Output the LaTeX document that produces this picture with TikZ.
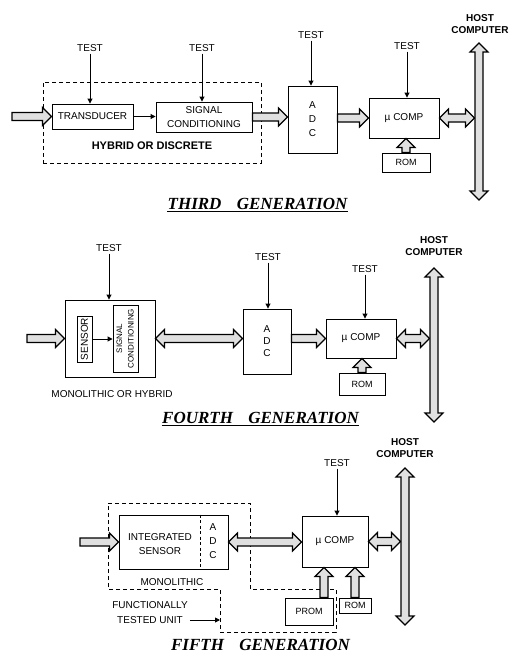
\documentclass[tikz,border=0pt]{standalone}
\usepackage{fontspec}
\setmainfont{Liberation Sans}
\newfontfamily\titlefont{Liberation Serif}
\usetikzlibrary{arrows.meta,calc}
\def\arrSW{4pt}
\def\arrHW{9pt}
\def\arrHL{9pt}
\begin{document}
\begin{tikzpicture}[x=1pt,y=-1pt,
  box/.style={draw, line width=0.9pt, inner sep=0pt, align=center, font=\fontsize{10}{14}\selectfont},
  lbl/.style={inner sep=0pt, align=center, font=\fontsize{10}{14}\selectfont},
  hostlbl/.style={inner sep=0pt, align=center, font=\bfseries\fontsize{10}{12.5}\selectfont},
  ttl/.style={inner sep=0pt, font=\titlefont\bfseries\itshape\fontsize{17}{20}\selectfont},
  tarrow/.style={draw, line width=0.9pt, shorten <=2pt, -{Triangle[length=5pt,width=5pt]}},
  hshape/.style={draw, line width=1.2pt, fill=black!12, line join=miter},
  dbox/.style={draw, line width=0.9pt, dash pattern=on 4pt off 3pt},
  harrow/.style={to path={
    ($(\tikztostart)!\arrSW!90:(\tikztotarget)$)
    -- ($(\tikztotarget)!\arrHL!(\tikztostart)!\arrSW!-90:(\tikztostart)$)
    -- ($(\tikztotarget)!\arrHL!(\tikztostart)!\arrHW!-90:(\tikztostart)$)
    -- (\tikztotarget)
    -- ($(\tikztotarget)!\arrHL!(\tikztostart)!\arrHW!90:(\tikztostart)$)
    -- ($(\tikztotarget)!\arrHL!(\tikztostart)!\arrSW!90:(\tikztostart)$)
    -- ($(\tikztostart)!\arrSW!-90:(\tikztotarget)$)
    -- cycle}},
  harrowboth/.style={to path={
    (\tikztostart)
    -- ($(\tikztostart)!\arrHL!(\tikztotarget)!\arrHW!90:(\tikztotarget)$)
    -- ($(\tikztostart)!\arrHL!(\tikztotarget)!\arrSW!90:(\tikztotarget)$)
    -- ($(\tikztotarget)!\arrHL!(\tikztostart)!\arrSW!-90:(\tikztostart)$)
    -- ($(\tikztotarget)!\arrHL!(\tikztostart)!\arrHW!-90:(\tikztostart)$)
    -- (\tikztotarget)
    -- ($(\tikztotarget)!\arrHL!(\tikztostart)!\arrHW!90:(\tikztostart)$)
    -- ($(\tikztotarget)!\arrHL!(\tikztostart)!\arrSW!90:(\tikztostart)$)
    -- ($(\tikztostart)!\arrHL!(\tikztotarget)!\arrSW!-90:(\tikztotarget)$)
    -- ($(\tikztostart)!\arrHL!(\tikztotarget)!\arrHW!-90:(\tikztotarget)$)
    -- cycle}},
]
\useasboundingbox (0,0) rectangle (510,654);

% ================= THIRD GENERATION =================
\node[dbox, inner sep=0pt, minimum width=218pt, minimum height=81pt] (hyb) at (152,122.5) {};
\node[lbl, font=\bfseries\fontsize{11}{13}\selectfont] (hybl) at (152,146) {HYBRID OR DISCRETE};
\node[box, minimum width=81pt, minimum height=25pt] (trans) at (92.5,116.5) {TRANSDUCER};
\node[box, minimum width=96pt, minimum height=30pt] (sc3) at (204,117) {SIGNAL\\CONDITIONING};
\node[box, minimum width=49pt, minimum height=67pt] (adc3) at (312.5,119.5) {A\\D\\C};
\node[box, minimum width=70pt, minimum height=40pt] (mc3) at (404,118) {µ COMP};
\node[box, font=\fontsize{9}{11}\selectfont, minimum width=48pt, minimum height=19pt] (rom3) at (406,162.5) {ROM};
\node[lbl] (t31) at (90,48) {TEST};
\node[lbl] (t32) at (202,48) {TEST};
\node[lbl] (t33) at (311,35) {TEST};
\node[lbl] (t34) at (407,46) {TEST};
\node[hostlbl] (h3) at (480,24) {HOST\\COMPUTER};
\coordinate (b3t) at (479,43);
\coordinate (b3b) at (479,200);
\coordinate (b3l) at (474.5,118);
\coordinate (in3) at (12,116.5);
\node[ttl] (ttl3) at (257.5,204) {THIRD\hspace{0.9em}GENERATION};
\draw[line width=0.9pt] ([yshift=-2pt]ttl3.south west) -- ([yshift=-2pt]ttl3.south east);

\draw[tarrow] (t31.south) -- (t31.south |- trans.north);
\draw[tarrow] (t32.south) -- (t32.south |- sc3.north);
\draw[tarrow] (t33.south) -- (t33.south |- adc3.north);
\draw[tarrow] (t34.south) -- (t34.south |- mc3.north);
\draw[tarrow, shorten <=0pt] (trans.east) -- (trans.east -| sc3.west);
\draw[hshape] (in3) to[harrow] (trans.west);
\draw[hshape] (sc3.east) to[harrow] (sc3.east -| adc3.west);
\draw[hshape] (adc3.east |- mc3.west) to[harrow] (mc3.west);
\draw[hshape] (mc3.east) to[harrowboth] (b3l);
\draw[hshape] (rom3.north) to[harrow] (rom3.north |- mc3.south);
\draw[hshape] (b3t) to[harrowboth] (b3b);

% ================= FOURTH GENERATION =================
\node[box, minimum width=90pt, minimum height=77pt] (mod4) at (110,338.5) {};
\node[box, minimum width=15pt, minimum height=46pt] (sen4) at (84.5,339) {\rotatebox{90}{SENSOR}};
\node[box, minimum width=25pt, minimum height=67pt, font=\fontsize{8}{11.5}\selectfont] (sc4) at (125.5,338.5)
  {\rotatebox{90}{\begin{tabular}{@{}c@{}}SIGNAL\\CONDITIONING\end{tabular}}};
\node[box, minimum width=48pt, minimum height=65pt, font=\fontsize{10}{12}\selectfont] (adc4) at (267,341.5) {A\\D\\C};
\node[box, minimum width=70pt, minimum height=39pt] (mc4) at (361,338.5) {µ COMP};
\node[box, font=\fontsize{9}{11}\selectfont, minimum width=46pt, minimum height=22pt] (rom4) at (362,384) {ROM};
\node[lbl] (t41) at (109,248) {TEST};
\node[lbl] (t42) at (268,257) {TEST};
\node[lbl] (t43) at (365,269) {TEST};
\node[hostlbl] (h4) at (434,246) {HOST\\COMPUTER};
\coordinate (b4t) at (434,268);
\coordinate (b4b) at (434,422);
\coordinate (b4l) at (429.5,338.5);
\coordinate (in4) at (27,338.5);
\node[lbl] (mh4) at (112,394) {MONOLITHIC OR HYBRID};
\node[ttl] (ttl4) at (260.5,418) {FOURTH\hspace{0.9em}GENERATION};
\draw[line width=0.9pt] ([yshift=-2pt]ttl4.south west) -- ([yshift=-2pt]ttl4.south east);

\draw[tarrow] (t41.south) -- (t41.south |- mod4.north);
\draw[tarrow] (t42.south) -- (t42.south |- adc4.north);
\draw[tarrow] (t43.south) -- (t43.south |- mc4.north);
\draw[tarrow, shorten <=0pt] (sen4.east) -- (sen4.east -| sc4.west);
\draw[hshape] (in4) to[harrow] (mod4.west);
\draw[hshape] (mod4.east) to[harrowboth] (mod4.east -| adc4.west);
\draw[hshape] (adc4.east |- mc4.west) to[harrow] (mc4.west);
\draw[hshape] (mc4.east) to[harrowboth] (b4l);
\draw[hshape] (rom4.north) to[harrow] (rom4.north |- mc4.south);
\draw[hshape] (b4t) to[harrowboth] (b4b);

% ================= FIFTH GENERATION =================
\draw[dbox] (108,503) -- (250,503) -- (250,589) -- (336,589) -- (336,632)
  -- (220,632) -- (220,589) -- (108,589) -- cycle;
\node[box, minimum width=109pt, minimum height=54pt] (is5) at (173.5,542) {};
\node[lbl] (ist5) at (160,544) {INTEGRATED\\SENSOR};
\node[lbl] (adct5) at (213,541) {A\\D\\C};
\draw[line width=0.8pt, dash pattern=on 3pt off 2.5pt] ([xshift=82pt]is5.north west) -- ([xshift=82pt]is5.south west);
\node[box, minimum width=66pt, minimum height=51pt] (mc5) at (335,541.5) {µ COMP};
\node[box, font=\fontsize{9}{11}\selectfont, minimum width=48pt, minimum height=27pt] (prom5) at (309,611.5) {PROM};
\node[box, font=\fontsize{9}{11}\selectfont, minimum width=32pt, minimum height=15pt] (rom5) at (355,605.5) {ROM};
\node[lbl] (t5) at (337,463) {TEST};
\node[hostlbl] (h5) at (405,448) {HOST\\COMPUTER};
\coordinate (b5t) at (405,468);
\coordinate (b5b) at (405,625);
\coordinate (b5l) at (400.5,541.5);
\coordinate (in5) at (80,542);
\coordinate (p5) at ([xshift=15pt]prom5.north);
\node[lbl] (mono5) at (172,582) {MONOLITHIC};
\node[lbl, font=\fontsize{10}{15}\selectfont] (ftu) at (150,612.5) {FUNCTIONALLY\\TESTED UNIT};
\coordinate (ftup) at (220,620);
\node[ttl] (ttl5) at (260.5,644.5) {FIFTH\hspace{0.9em}GENERATION};

\draw[tarrow] (t5.south) -- (t5.south |- mc5.north);
\draw[tarrow] (ftu.east |- ftup) -- (ftup);
\draw[hshape] (in5) to[harrow] (is5.west);
\draw[hshape] (is5.east) to[harrowboth] (is5.east -| mc5.west);
\draw[hshape] (mc5.east) to[harrowboth] (b5l);
\draw[hshape] (p5) to[harrow] (p5 |- mc5.south);
\draw[hshape] (rom5.north) to[harrow] (rom5.north |- mc5.south);
\draw[hshape] (b5t) to[harrowboth] (b5b);
\end{tikzpicture}
\end{document}
